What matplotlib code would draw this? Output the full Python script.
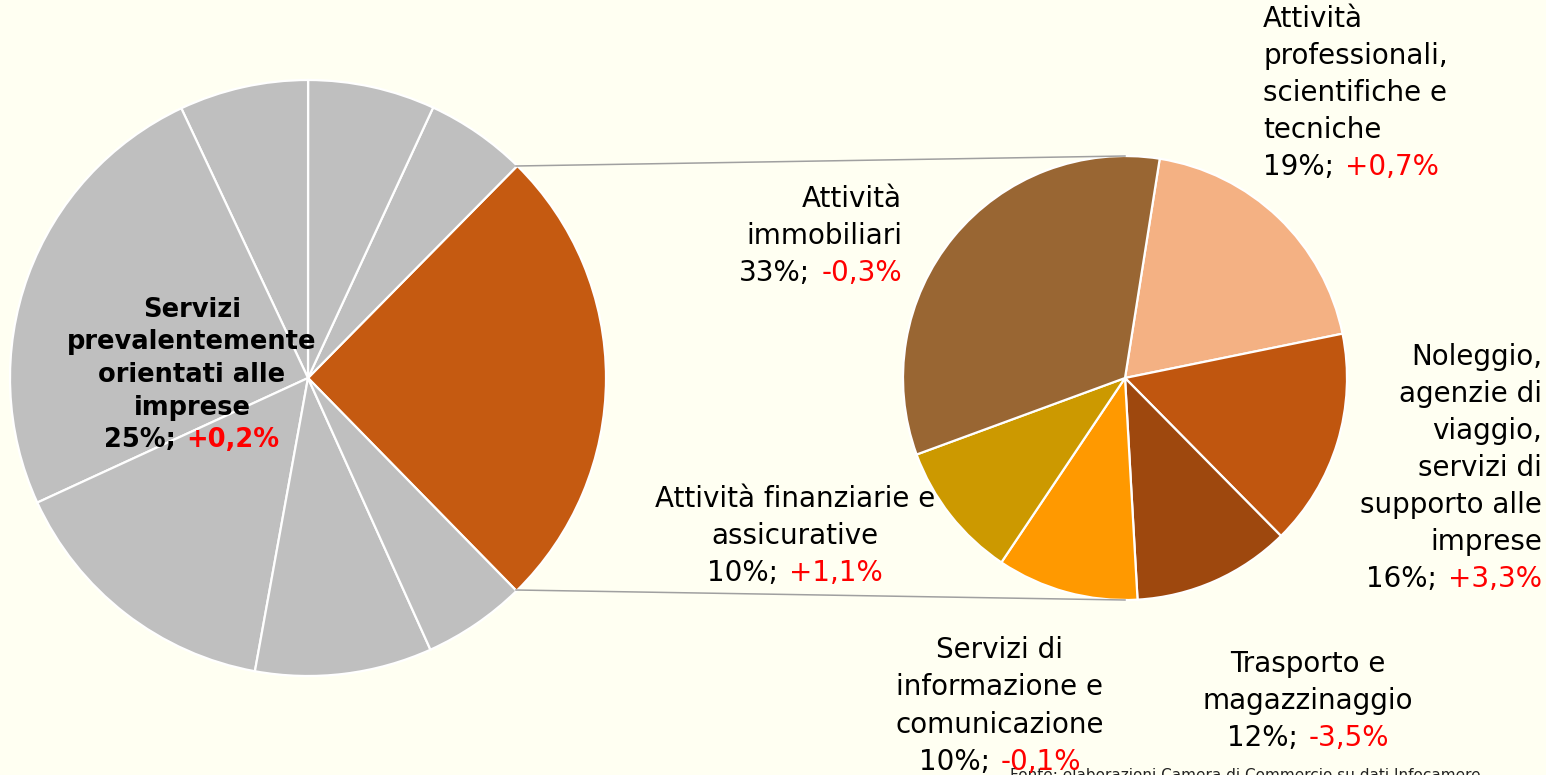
import numpy as np
import matplotlib
matplotlib.use("Agg")
import matplotlib.pyplot as plt
from matplotlib.offsetbox import TextArea, VPacker, HPacker, AnnotationBbox

# left pie: highlighted sector first, then the other (grey) sectors counterclockwise
left_shares = [25.3, 5.5, 6.9, 7.0, 24.9, 15.3, 9.6, 5.6]
left_colors = ["#C55A11"] + ["#BFBFBF"] * 7
left_label = ["Servizi", "prevalentemente", "orientati alle", "imprese"]
left_pct, left_var = "25%;", "+0,2%"

# right pie: breakdown of the highlighted sector, clockwise from the top
right_names = [
    ["Attività", "professionali,", "scientifiche e", "tecniche"],
    ["Noleggio,", "agenzie di", "viaggio,", "servizi di", "supporto alle", "imprese"],
    ["Trasporto e", "magazzinaggio"],
    ["Servizi di", "informazione e", "comunicazione"],
    ["Attività finanziarie e", "assicurative"],
    ["Attività", "immobiliari"],
]
right_shares = [19.3, 15.8, 11.5, 10.3, 10.0, 33.1]
right_pct = ["19%;", "16%;", "12%;", "10%;", "10%;", "33%;"]
right_var = ["+0,7%", "+3,3%", "-3,5%", "-0,1%", "+1,1%", "-0,3%"]
right_colors = ["#F4B183", "#C0560F", "#9E480E", "#FF9900", "#CC9900", "#996633"]

bg = "#FFFFF2"
W, H = 1546, 775
fig = plt.figure(figsize=(W / 100, H / 100), dpi=100, facecolor=bg)
ax = fig.add_axes([0, 0, 1, 1])

wp = dict(edgecolor="white", linewidth=1.6)
ax.pie(left_shares, colors=left_colors, center=(308, H - 378), radius=298,
       startangle=-45.6, counterclock=True, wedgeprops=wp, frame=True)
ax.pie(right_shares, colors=right_colors, center=(1125, H - 378), radius=222,
       startangle=81, counterclock=False, wedgeprops=wp, frame=True)
ax.set_xlim(0, W)
ax.set_ylim(0, H)
ax.axis("off")

# connector lines between the two pies
ax.plot([516, 1125], [H - 166, H - 156], color="#A0A0A0", lw=1.1)
ax.plot([516, 1125], [H - 590, H - 600], color="#A0A0A0", lw=1.1)


def label(lines, pct, var, xy, align, box_align, size=20, sep=6.5, bold=False):
    w = "bold" if bold else "normal"
    props = dict(fontsize=size, fontweight=w, family="DejaVu Sans")
    rows = [TextArea(s, textprops=dict(color="black", **props)) for s in lines]
    last = HPacker(children=[TextArea(pct, textprops=dict(color="black", **props)),
                             TextArea(var, textprops=dict(color="red", **props))],
                   align="baseline", pad=0, sep=size * 0.4)
    box = VPacker(children=rows + [last], align=align, pad=0, sep=sep)
    ab = AnnotationBbox(box, xy, xycoords="data", box_alignment=box_align,
                        frameon=False, pad=0, zorder=5)
    ax.add_artist(ab)


# right pie labels: position (x, y in pixel rows), alignment
spots = [
    ((1263, 93), "left", (0, 0.5)),
    ((1542, 468), "right", (1, 0.5)),
    ((1308, 701), "center", (0.5, 0.5)),
    ((1000, 706), "center", (0.5, 0.5)),
    ((795, 536), "center", (0.5, 0.5)),
    ((902, 236), "right", (1, 0.5)),
]
for names, pct, var, (p, al, ba) in zip(right_names, right_pct, right_var, spots):
    label(names, pct, var, (p[0], H - p[1]), al, ba)

label(left_label, left_pct, left_var, (192, H - 375), "center", (0.5, 0.5),
      size=18.5, sep=4.8, bold=True)

# source note, cut by the bottom edge as in the original
ax.text(1010, H - 768, "Fonte: elaborazioni Camera di Commercio su dati Infocamere",
        fontsize=11, color="#222222", va="top", ha="left", zorder=1)

fig.savefig("out.png", dpi=100, facecolor=bg)
